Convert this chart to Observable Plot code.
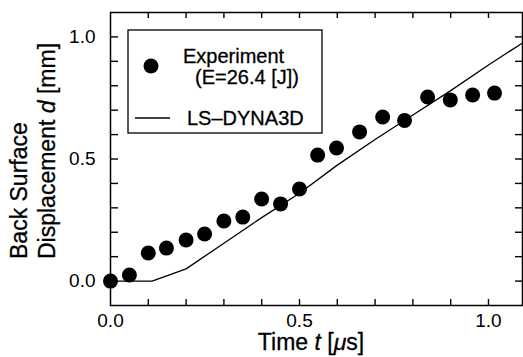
<!DOCTYPE html>
<html><head><meta charset="utf-8">
<script src="https://cdn.jsdelivr.net/npm/d3@7"></script>
<script src="https://cdn.jsdelivr.net/npm/@observablehq/plot@0.6"></script>
<style>body{margin:0;background:#fff}svg{display:block}</style>
</head><body><div id="chart"></div>
<script>
// Experiment (E=26.4 J)
const expTime = [0, 0.05, 0.1, 0.148, 0.2, 0.249, 0.3, 0.35, 0.4, 0.45, 0.5, 0.548, 0.598, 0.659, 0.72, 0.778, 0.839, 0.899, 0.958, 1.016];
const expDisp = [0, 0.025, 0.115, 0.135, 0.168, 0.193, 0.246, 0.262, 0.336, 0.316, 0.377, 0.516, 0.545, 0.611, 0.672, 0.658, 0.754, 0.742, 0.762, 0.770];
// LS-DYNA3D simulation
const simTime = [0, 0.11, 0.2, 0.3, 0.4, 0.5, 0.6, 0.7, 0.8, 0.9, 1.0, 1.09];
const simDisp = [0, 0, 0.05, 0.155, 0.26, 0.36, 0.475, 0.58, 0.68, 0.78, 0.885, 0.975];
// axis ticks
const xTickLabels = [0, 0.5, 1.0];
const yTickLabels = [0, 0.5, 1.0];
const xMinorTicks = [0.1, 0.2, 0.3, 0.4, 0.5, 0.6, 0.7, 0.8, 0.9, 1.0];
const yMinorTicks = [0, 0.1, 0.2, 0.3, 0.4, 0.5, 0.6, 0.7, 0.8, 0.9, 1.0];

const W = 523, H = 357, mL = 110, mR = 1, mT = 12, mB = 52;
const pw = W - mL - mR, ph = H - mT - mB;

const expData = expTime.map((t, i) => ({t, d: expDisp[i]}));
const simData = simTime.map((t, i) => ({t, d: simDisp[i]}));
const fmt = d3.format(".1f");

const plot = Plot.plot({
  width: W, height: H,
  marginLeft: mL, marginRight: mR, marginTop: mT, marginBottom: mB,
  x: {domain: [0, 1.09]},
  y: {domain: [-0.1, 1.1]},
  style: {fontFamily: "'Liberation Sans', Arial, sans-serif", fontSize: "19px", color: "black", background: "white"},
  marks: [
    Plot.frame({stroke: "black", strokeWidth: 1.5}),
    Plot.ruleX(xMinorTicks, {x: d => d, insetTop: ph - 6, stroke: "black", strokeWidth: 1.4}),
    Plot.ruleX(xMinorTicks, {x: d => d, insetBottom: ph - 6, stroke: "black", strokeWidth: 1.4}),
    Plot.ruleY(yMinorTicks, {y: d => d, insetRight: pw - 8, stroke: "black", strokeWidth: 1.4}),
    Plot.ruleY(yMinorTicks, {y: d => d, insetLeft: pw - 7, stroke: "black", strokeWidth: 1.4}),
    Plot.axisX(xTickLabels, {tickSize: 0, tickPadding: 8, tickFormat: fmt, label: null, stroke: "black", strokeWidth: 0.4}),
    Plot.axisY(yTickLabels, {tickSize: 0, tickPadding: 15, tickFormat: fmt, label: null, stroke: "black", strokeWidth: 0.4}),
    Plot.line(simData, {x: "t", y: "d", stroke: "black", strokeWidth: 1.3}),
    Plot.dot(expData, {x: "t", y: "d", r: 7.5, fill: "black", stroke: "none"})
  ]
});
document.getElementById("chart").appendChild(plot);

const svg = d3.select(plot);
const F = "'Liberation Sans', Arial, sans-serif";
// x label
const xl = svg.append("text").attr("x", 311).attr("y", 350).attr("text-anchor", "middle")
  .attr("font-family", F).attr("font-size", 23).attr("fill", "black").attr("stroke", "black").attr("stroke-width", 0.3);
xl.append("tspan").text("Time ");
xl.append("tspan").attr("font-style", "italic").text("t");
xl.append("tspan").text(" [");
xl.append("tspan").attr("font-style", "italic").text("μ");
xl.append("tspan").text("s]");
// y label (two lines, start-aligned)
svg.append("text").attr("transform", "translate(27,259) rotate(-90)").attr("text-anchor", "start")
  .attr("font-family", F).attr("font-size", 23).attr("fill", "black").attr("stroke", "black").attr("stroke-width", 0.3).text("Back Surface");
const y2 = svg.append("text").attr("transform", "translate(55,259) rotate(-90)").attr("text-anchor", "start")
  .attr("font-family", F).attr("font-size", 23).attr("fill", "black").attr("stroke", "black").attr("stroke-width", 0.3);
y2.append("tspan").text("Displacement ");
y2.append("tspan").attr("font-style", "italic").text("d");
y2.append("tspan").text(" [mm]");
// legend
const lg = svg.append("g").attr("font-family", F).attr("font-size", 20).attr("fill", "black").attr("text-anchor", "start");
lg.append("rect").attr("x", 128).attr("y", 30).attr("width", 194).attr("height", 103)
  .attr("fill", "white").attr("stroke", "black").attr("stroke-width", 1.3);
lg.append("circle").attr("cx", 151).attr("cy", 66).attr("r", 7.5).attr("fill", "black");
const lt = lg.append("g").attr("stroke", "black").attr("stroke-width", 0.3);
lt.append("text").attr("x", 183).attr("y", 63).text("Experiment");
lt.append("text").attr("x", 195).attr("y", 84).text("(E=26.4 [J])");
lg.append("line").attr("x1", 135).attr("x2", 170).attr("y1", 118).attr("y2", 118)
  .attr("stroke", "black").attr("stroke-width", 1.3);
lt.append("text").attr("x", 187).attr("y", 125).text("LS–DYNA3D");
</script>
</body></html>
